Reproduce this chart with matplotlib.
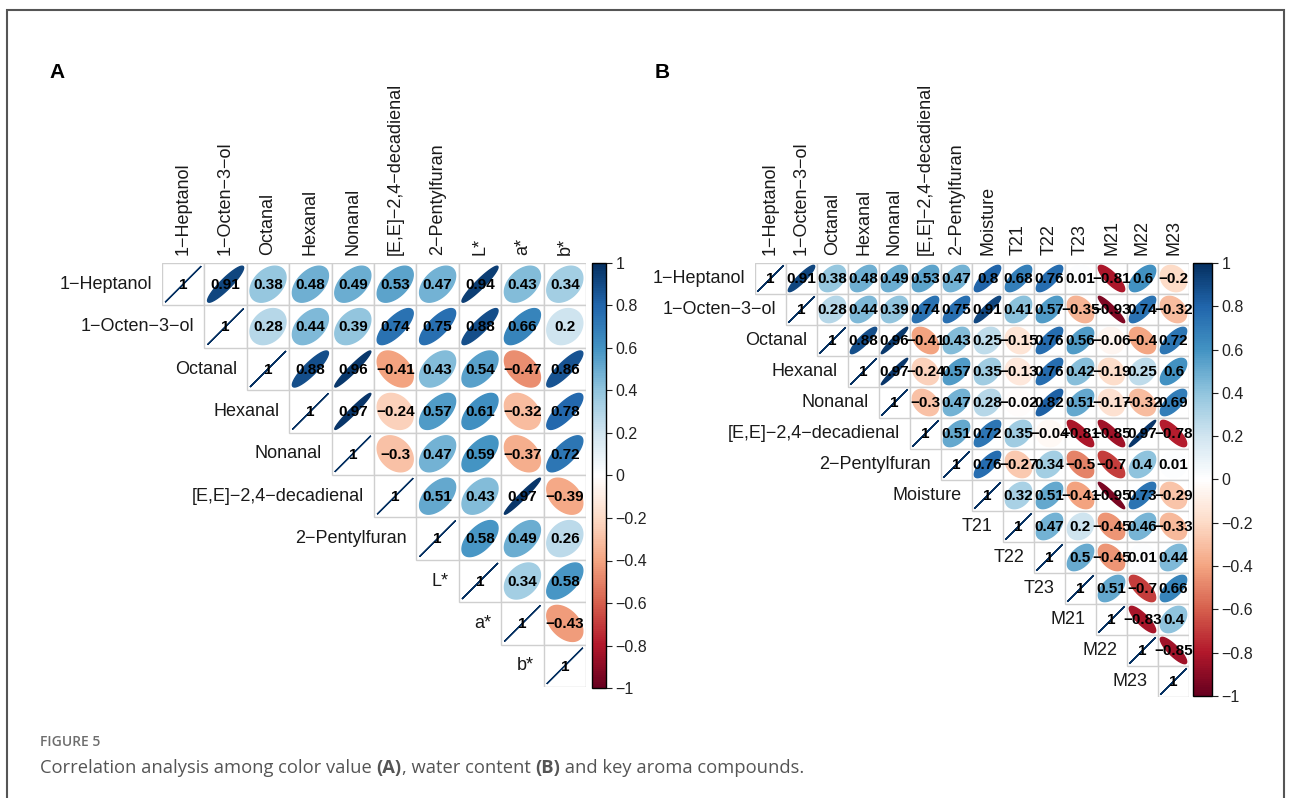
import numpy as np
import matplotlib
matplotlib.use("Agg")
import matplotlib.pyplot as plt
from matplotlib.colors import LinearSegmentedColormap, Normalize
from matplotlib.patches import Polygon, Rectangle
import matplotlib.colorbar as mcb

plt.rcParams['font.family'] = ['Liberation Sans', 'DejaVu Sans']

# panel A: colour value vs aroma compounds (upper triangle, row by row from the diagonal)
labels_a = ["1−Heptanol", "1−Octen−3−ol", "Octanal", "Hexanal", "Nonanal",
            "[E,E]−2,4−decadienal", "2−Pentylfuran", "L*", "a*", "b*"]
upper_a = [
    [1, 0.91, 0.38, 0.48, 0.49, 0.53, 0.47, 0.94, 0.43, 0.34],
    [1, 0.28, 0.44, 0.39, 0.74, 0.75, 0.88, 0.66, 0.2],
    [1, 0.88, 0.96, -0.41, 0.43, 0.54, -0.47, 0.86],
    [1, 0.97, -0.24, 0.57, 0.61, -0.32, 0.78],
    [1, -0.3, 0.47, 0.59, -0.37, 0.72],
    [1, 0.51, 0.43, 0.97, -0.39],
    [1, 0.58, 0.49, 0.26],
    [1, 0.34, 0.58],
    [1, -0.43],
    [1],
]

# panel B: water content vs aroma compounds
labels_b = ["1−Heptanol", "1−Octen−3−ol", "Octanal", "Hexanal", "Nonanal",
            "[E,E]−2,4−decadienal", "2−Pentylfuran", "Moisture", "T21", "T22",
            "T23", "M21", "M22", "M23"]
upper_b = [
    [1, 0.91, 0.38, 0.48, 0.49, 0.53, 0.47, 0.8, 0.68, 0.76, 0.01, -0.81, 0.6, -0.2],
    [1, 0.28, 0.44, 0.39, 0.74, 0.75, 0.91, 0.41, 0.57, -0.35, -0.93, 0.74, -0.32],
    [1, 0.88, 0.96, -0.41, 0.43, 0.25, -0.15, 0.76, 0.56, -0.06, -0.4, 0.72],
    [1, 0.97, -0.24, 0.57, 0.35, -0.13, 0.76, 0.42, -0.19, 0.25, 0.6],
    [1, -0.3, 0.47, 0.28, -0.02, 0.82, 0.51, -0.17, -0.32, 0.69],
    [1, 0.51, 0.72, 0.35, -0.04, -0.81, -0.85, 0.97, -0.78],
    [1, 0.76, -0.27, 0.34, -0.5, -0.7, 0.4, 0.01],
    [1, 0.32, 0.51, -0.41, -0.95, 0.73, -0.29],
    [1, 0.47, 0.2, -0.45, 0.46, -0.33],
    [1, 0.5, -0.45, 0.01, 0.44],
    [1, 0.51, -0.7, 0.66],
    [1, -0.83, 0.4],
    [1, -0.85],
    [1],
]

cbar_ticks = [-1, -0.8, -0.6, -0.4, -0.2, 0, 0.2, 0.4, 0.6, 0.8, 1]

W, H = 1290, 798
fig = plt.figure(figsize=(W / 100, H / 100), dpi=100)

cmap = LinearSegmentedColormap.from_list("RdBu_corr", [
    "#67001F", "#B2182B", "#D6604D", "#F4A582", "#FDDBC7", "#FFFFFF",
    "#D1E5F0", "#92C5DE", "#4393C3", "#2166AC", "#053061"], N=200)
norm = Normalize(-1, 1)


def fmt(v):
    s = f"{v:g}"
    return s.replace("-", "−")


def px_axes(x0, y0, x1, y1):
    return fig.add_axes([x0 / W, 1 - y1 / H, (x1 - x0) / W, (y1 - y0) / H])


def corr_panel(left, top, cell, labels, rows):
    n = len(labels)
    ax = px_axes(left, top, left + n * cell, top + n * cell)
    ax.set_xlim(0, n)
    ax.set_ylim(n, 0)
    ax.axis("off")
    t = np.linspace(0, 2 * np.pi, 99)
    for i, row in enumerate(rows):
        for k, r in enumerate(row):
            j = i + k
            ax.add_patch(Rectangle((j, i), 1, 1, facecolor="white",
                                   edgecolor="#cfcfcf", lw=1.0))
            a = np.arccos(np.clip(r, -1, 1))
            ex = 0.85 * np.cos(t + a / 2) / 2
            ey = 0.85 * np.cos(t - a / 2) / 2
            col = cmap(norm(r))
            ax.add_patch(Polygon(np.column_stack([j + 0.5 + ex, i + 0.5 - ey]),
                                 closed=True, facecolor=col, edgecolor=col, lw=1.0))
            ax.text(j + 0.5, i + 0.52, fmt(r), ha="center", va="center",
                    fontsize=11, fontweight="bold", color="black")
        ax.text(i - 10 / cell, i + 0.5, labels[i], ha="right", va="center",
                fontsize=13, color="#1a1a1a")
        ax.text(i + 0.5, -8 / cell, labels[i], ha="center", va="bottom",
                rotation=90, fontsize=13, color="#1a1a1a")
    return ax


def cbar(x0, y0, x1, y1):
    cax = px_axes(x0, y0, x1, y1)
    cb = mcb.ColorbarBase(cax, cmap=cmap, norm=norm, orientation="vertical")
    cb.set_ticks(cbar_ticks)
    cb.set_ticklabels([fmt(v) for v in cbar_ticks])
    cb.outline.set_linewidth(1.0)
    cax.tick_params(labelsize=11.5, length=4, width=0.8, colors="#222222", pad=3)
    return cb


corr_panel(162, 263, 42.4, labels_a, upper_a)
cbar(592, 263, 606, 688)
corr_panel(755, 263, 31.0, labels_b, upper_b)
cbar(1193, 263, 1212, 696)

fig.text(49 / W, 1 - 73 / H, "A", fontsize=15, fontweight="bold", va="center")
fig.text(655 / W, 1 - 73 / H, "B", fontsize=15, fontweight="bold", va="center")

# outer frame
fig.patches.append(Rectangle((7 / W, -0.02), (1284 - 7) / W, 1.02 - 10 / H,
                             transform=fig.transFigure, fill=False,
                             edgecolor="#555555", lw=1.5))

# caption
fig.text(40 / W, 1 - 742 / H, "FIGURE 5", fontsize=10, fontweight="semibold",
         color="#6e6e6e", va="center", family=["Open Sans", "DejaVu Sans"])
pieces = [("Correlation analysis among color value ", "normal"), ("(A)", "bold"),
          (", water content ", "normal"), ("(B)", "bold"),
          (" and key aroma compounds.", "normal")]
renderer = fig.canvas.get_renderer()
x = 40
for s, w in pieces:
    tt = fig.text(x / W, 1 - 768 / H, s, fontsize=13.2, fontweight=w,
                  color="#555555", va="center", family=["Open Sans", "DejaVu Sans"])
    x += tt.get_window_extent(renderer).width

fig.savefig("out.png", dpi=100)
